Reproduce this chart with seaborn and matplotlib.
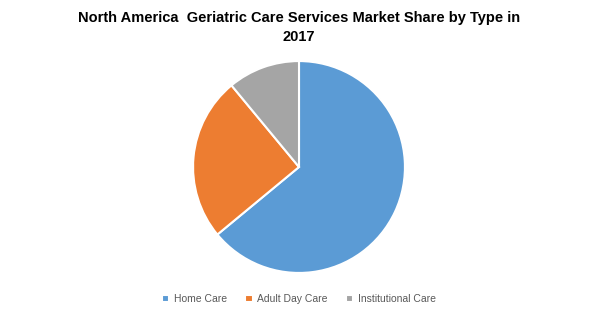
import matplotlib
matplotlib.use("Agg")
import matplotlib.pyplot as plt
import seaborn as sns

categories = ["Home Care", "Adult Day Care", "Institutional Care"]
shares = [64, 25, 11]
colors = ["#5B9BD5", "#ED7D31", "#A5A5A5"]
title = "North America  Geriatric Care Services Market Share by Type in\n2017"

sns.set_theme(style="white")
plt.rcParams['font.family'] = ['Liberation Sans', 'DejaVu Sans']

fig = plt.figure(figsize=(5.98, 3.2), dpi=100)
fig.patch.set_facecolor("white")
ax = fig.add_axes([192/598, 46/320, 214/598, 214/320])
wedges, _ = ax.pie(shares, colors=sns.color_palette(colors), startangle=90, counterclock=False,
                   radius=1, wedgeprops=dict(edgecolor="white", linewidth=1.5))
ax.set_xlim(-1.01, 1.01)
ax.set_ylim(-1.01, 1.01)
ax.set_aspect("equal")
ax.axis("off")

fig.text(0.5, 1 - 11/320, title, ha="center", va="top", fontsize=10.5,
         fontweight="bold", color="black", linespacing=1.45)

fig.legend(wedges, categories, loc="center", bbox_to_anchor=(0.5, 1 - 299/320), ncol=3,
           frameon=False, fontsize=7.5, handlelength=0.7, handleheight=0.7,
           handletextpad=0.45, columnspacing=1.75, labelcolor="#595959")

fig.savefig("out.png", dpi=100, facecolor="white")
